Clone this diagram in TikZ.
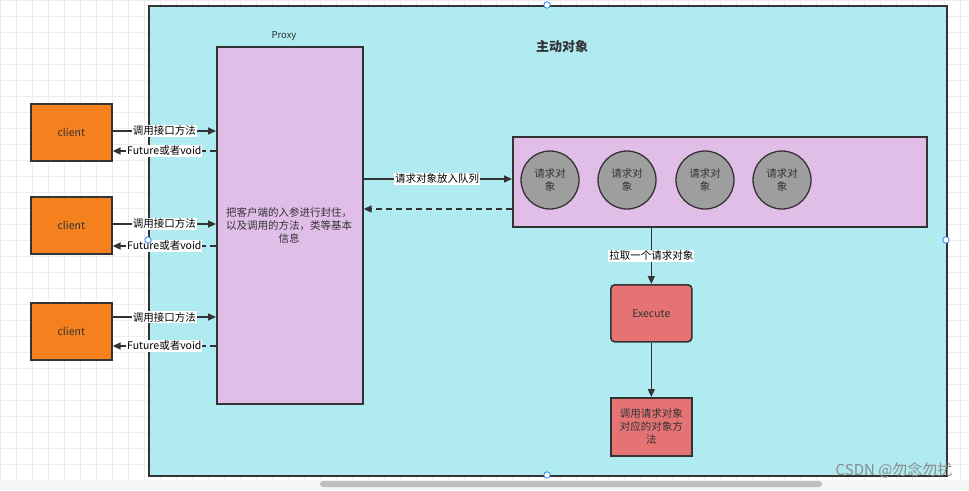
\documentclass[tikz,border=0pt]{standalone}
\usepackage{fontspec}
\setmainfont{Noto Sans CJK SC}
\usetikzlibrary{arrows.meta}
\definecolor{cyanbg}{HTML}{B0EBF2}
\definecolor{lilac}{HTML}{E1BEE7}
\definecolor{orangec}{HTML}{F4811E}
\definecolor{redc}{HTML}{E57373}
\definecolor{grayc}{HTML}{9E9E9E}
\definecolor{linec}{HTML}{333333}
\definecolor{textc}{HTML}{333333}
\definecolor{handle}{HTML}{2A8CF0}
\tikzset{
  box/.style={draw=linec, line width=1.6pt, inner sep=0pt, text=textc, font=\fontsize{10.5}{13}\selectfont, align=center},
  clientbox/.style={box, fill=orangec, minimum width=81pt, minimum height=57pt},
  circ/.style={draw=linec, line width=1.3pt, circle, fill=grayc, minimum size=58pt, inner sep=0pt, text=textc, font=\fontsize{10.5}{12.5}\selectfont, align=center},
  conn/.style={draw=linec, line width=1.6pt, -{Triangle[length=8pt,width=7pt]}},
  dconn/.style={conn, dash pattern=on 6pt off 4pt},
  lbl/.style={fill=white, inner sep=1pt, text=black, font=\fontsize{10.5}{12}\selectfont},
}
\begin{document}
\begin{tikzpicture}[x=1pt,y=-1pt]
\useasboundingbox (0,0) rectangle (969,490);
\fill[white] (0,0) rectangle (969,490);
% grid
\foreach \i in {0,16,...,969} \draw[black!7, line width=0.5pt] (\i,0) -- (\i,480);
\foreach \j in {0,16,...,480} \draw[black!7, line width=0.5pt] (0,\j) -- (969,\j);
% main container
\node[box, fill=cyanbg, minimum width=798pt, minimum height=470pt, anchor=north west] (main) at (148,5) {};
\node[font=\bfseries\fontsize{13}{15}\selectfont, text=textc] (title) at (562,47) {主动对象};
% proxy
\node[box, fill=lilac, minimum width=146pt, minimum height=357pt, anchor=north west] (proxy) at (216,46) {};
\node[text=textc, font=\fontsize{9.5}{11}\selectfont] (proxylbl) at (284,36) {Proxy};
\node[text=textc, font=\fontsize{10.5}{13}\selectfont, align=center] (proxytxt) at (289,225) {把客户端的入参进行封住，\\以及调用的方法，类等基本\\信息};
% clients
\node[clientbox, anchor=north west] (c1) at (30,103) {client};
\node[clientbox, anchor=north west] (c2) at (30,196) {client};
\node[clientbox, anchor=north west] (c3) at (30,302) {client};
% client arrows
\coordinate (p1a) at (216,131); \coordinate (p1b) at (216,151);
\coordinate (p2a) at (216,224); \coordinate (p2b) at (216,246);
\coordinate (p3a) at (216,317); \coordinate (p3b) at (216,346);
\draw[conn] (c1.east |- p1a) -- node[lbl]{调用接口方法} (p1a);
\draw[dconn] (p1b) -- node[lbl]{Future或者void} (c1.east |- p1b);
\draw[conn] (c2.east |- p2a) -- node[lbl]{调用接口方法} (p2a);
\draw[dconn] (p2b) -- node[lbl]{Future或者void} (c2.east |- p2b);
\draw[conn] (c3.east |- p3a) -- node[lbl]{调用接口方法} (p3a);
\draw[dconn] (p3b) -- node[lbl]{Future或者void} (c3.east |- p3b);
% queue
\node[box, fill=lilac, minimum width=414pt, minimum height=90pt, anchor=north west] (queue) at (512,136) {};
\node[circ] (r1) at (550,180) {请求对\\象};
\node[circ] (r2) at (627,180) {请求对\\象};
\node[circ] (r3) at (705,180) {请求对\\象};
\node[circ] (r4) at (782,180) {请求对\\象};
\coordinate (q1) at (362,179);
\coordinate (q2) at (512,209);
\draw[conn] (q1) -- node[lbl]{请求对象放入队列} (queue.west |- q1);
\draw[dconn] (q2) -- (proxy.east |- q2);
% execute
\node[box, fill=redc, rounded corners=4pt, minimum width=81pt, minimum height=57pt, anchor=north west] (exec) at (610,284) {Execute};
\node[box, fill=redc, minimum width=81pt, minimum height=58pt, anchor=north west] (call) at (610,397) {调用请求对象\\对应的对象方\\法};
\draw[conn] (queue.south -| exec.north) -- node[lbl]{拉取一个请求对象} (exec.north);
\draw[conn] (exec.south) -- (call.north);
% selection handles
\foreach \p in {(547,5),(148,240),(946,240),(547,475)}
  \draw[handle, fill=white, line width=0.8pt] \p circle (3.2pt);
% scrollbar
\fill[black!4] (0,480) rectangle (969,490);
\fill[black!25, rounded corners=3pt] (320,481) rectangle (822,487);
% watermark
\node[text=black!45, font=\fontsize{15}{17}\selectfont, anchor=east] (wm) at (956,470) {CSDN @勿念勿扰};
\end{tikzpicture}
\end{document}
